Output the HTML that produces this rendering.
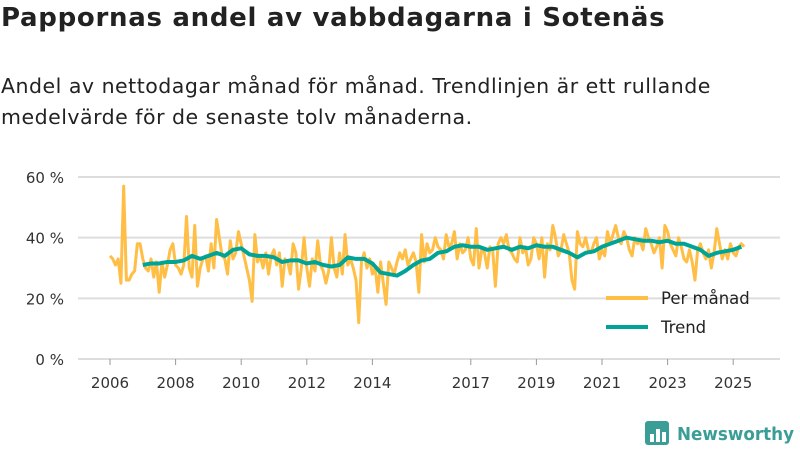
<!DOCTYPE html>
<html><head><meta charset="utf-8"><style>
body{margin:0;width:800px;height:450px;background:#fff;font-family:"DejaVu Sans","Liberation Sans",sans-serif;overflow:hidden;position:relative;color:#222}
h1{position:absolute;left:1px;top:3px;margin:0;font-size:26px;font-weight:bold;letter-spacing:0.7px}
p{position:absolute;left:1px;top:71px;margin:0;font-size:20.5px;line-height:31px;width:760px;letter-spacing:0.5px}
svg{position:absolute;left:0;top:0}
</style></head><body>
<h1>Pappornas andel av vabbdagarna i Sotenäs</h1>
<p>Andel av nettodagar månad för månad. Trendlinjen är ett rullande<br>medelvärde för de senaste tolv månaderna.</p>
<svg id="c" width="800" height="450"></svg>
<script>
const monthly=[34,33,31,33,25,57,26,26,28,29,38,38,
33,30,29,33,27,32,22,32,27,31,36,38,
31,30,28,31,47,30,27,44,24,30,33,34,
29,38,30,46,40,34,33,28,39,33,35,42,
38,34,30,26,19,41,32,34,30,35,28,34,
36,31,35,24,33,32,28,38,35,23,30,40,
30,24,33,29,39,31,29,25,29,40,30,27,
35,28,41,31,33,30,26,12,32,35,30,33,
28,30,22,32,25,18,32,30,28,32,35,33,
36,31,33,35,32,22,41,32,38,35,36,40,
37,36,33,41,37,38,42,33,38,35,36,40,
33,31,43,30,36,35,30,37,36,24,38,40,
38,41,36,35,33,32,40,35,37,31,33,40,
38,33,40,27,38,36,44,40,34,36,41,38,
35,26,23,42,38,37,40,36,35,38,40,33,
36,34,42,38,41,44,40,38,42,40,36,34,
40,38,39,36,43,40,38,35,37,40,30,44,
42,38,36,34,40,37,33,32,36,32,26,36,
38,35,33,36,30,35,43,38,33,36,33,38,
35,34,37,38,37];
const monthlyStart=2006.0;
const trend=[31,31.5,31.5,32,32,32.5,34,33,34,35,34,36,36.5,34.5,34,34,33.5,32,32.5,32.5,31.5,32,31,30.5,31,33.5,33,33,31.5,28.5,28,27.5,29,31,32.5,33,35,35.5,37,37.5,37,37,36,36.5,37,36,37,36.5,37.5,37,37,36,35,33.5,35,35.5,37,38,39,40,39.5,39,39,38.5,39,38,38,37,36,34,35,35.5,36,37];
const trendStart=2007.0;
const yTicks=[0,20,40,60];
const xTicks=[2006,2008,2010,2012,2014,2017,2019,2021,2023,2025];
const NS="http://www.w3.org/2000/svg",svg=document.getElementById('c');
const X=t=>110+(t-2006)*32.8, Y=v=>359-v*3.033;
function el(tag,a,txt){const e=document.createElementNS(NS,tag);for(const k in a)e.setAttribute(k,a[k]);if(txt!=null)e.textContent=txt;svg.appendChild(e);return e;}
yTicks.forEach(v=>{
 const g=el('line',{x1:78,x2:780,y1:Y(v),y2:Y(v),stroke:'#ddd','stroke-width':2});
 
 
 const t=el('text',{x:64,y:Y(v)+6,'text-anchor':'end','font-size':15,fill:'#333'},v+' %');
 
 
});
xTicks.forEach(yr=>{
 const l=el('line',{x1:X(yr),x2:X(yr),y1:359,y2:365,stroke:'#999','stroke-width':1});
 
 
 const t=el('text',{x:X(yr),y:388,'text-anchor':'middle','font-size':15,fill:'#333'},yr);
 
 
});
const p1=el('polyline',{points:monthly.map((v,i)=>X(monthlyStart+i/12)+','+Y(v)).join(' '),fill:'none',stroke:'#ffbe45','stroke-width':3,'stroke-linejoin':'round'});


const p2=el('polyline',{points:trend.map((v,i)=>X(trendStart+i/4)+','+Y(v)).join(' '),fill:'none',stroke:'#00a496','stroke-width':4,'stroke-linejoin':'round'});


[['Per månad','#ffbe45',298],['Trend','#00a496',327]].forEach(([n,c,y])=>{
 const l=el('line',{x1:606,x2:648,y1:y,y2:y,stroke:c,'stroke-width':4});
 
 
 const t=el('text',{x:661,y:y+6,'font-size':16.5,fill:'#222'},n);
 
 
});
const r=el('rect',{x:645,y:421,width:24,height:24,rx:3,fill:'#3a9e96'});


[[650,434,4,8],[656,429,4,13],[662,432,4,10]].forEach(b=>{const e=el('rect',{x:b[0],y:b[1],width:b[2],height:b[3],fill:'#fff'});});
const lt=el('text',{x:677,y:440,'font-size':18,'font-weight':'bold',fill:'#3a9e96',textLength:117,lengthAdjust:'spacingAndGlyphs'},'Newsworthy');


</script>
</body></html>
